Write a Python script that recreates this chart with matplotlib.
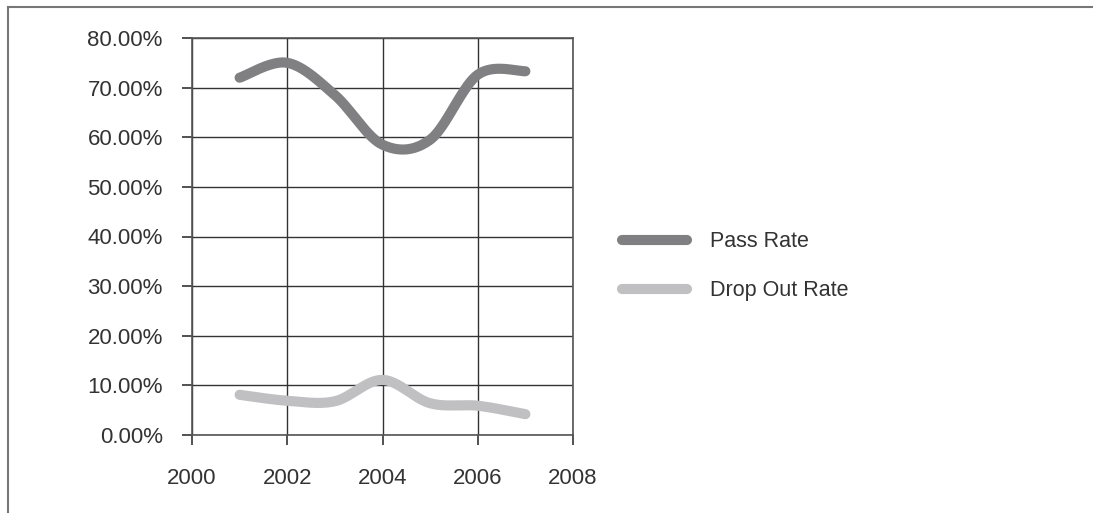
import numpy as np
import matplotlib.pyplot as plt
from matplotlib.lines import Line2D
from matplotlib.ticker import FuncFormatter

years = [2001, 2002, 2003, 2004, 2005, 2006, 2007]
pass_rate = [72.0, 75.0, 68.5, 58.5, 59.5, 72.6, 73.3]
drop_out_rate = [8.1, 6.9, 6.8, 11.1, 6.4, 5.9, 4.2]
series_names = ['Pass Rate', 'Drop Out Rate']
series_colors = ['#808083', '#c0c0c3']

x_ticks = [2000, 2002, 2004, 2006, 2008]
y_ticks = [0, 10, 20, 30, 40, 50, 60, 70, 80]


def smooth(xs, ys, steps=40):
    """
    Catmull-Rom curve through the points, the way spreadsheet charts smooth a line
    """
    xs = np.asarray(xs, dtype=float)
    ys = np.asarray(ys, dtype=float)
    px = np.concatenate([[xs[0]], xs, [xs[-1]]])
    py = np.concatenate([[ys[0]], ys, [ys[-1]]])
    out_x, out_y = [], []
    t = np.linspace(0, 1, steps)
    for i in range(1, len(px) - 2):
        for p, out in ((px, out_x), (py, out_y)):
            p0, p1, p2, p3 = p[i - 1], p[i], p[i + 1], p[i + 2]
            out.extend(0.5 * (2 * p1 + (-p0 + p2) * t
                              + (2 * p0 - 5 * p1 + 4 * p2 - p3) * t ** 2
                              + (-p0 + 3 * p1 - 3 * p2 + p3) * t ** 3))
    return np.array(out_x), np.array(out_y)


plt.rcParams['font.family'] = ['Liberation Sans', 'DejaVu Sans']

fig = plt.figure(figsize=(10.93, 5.13), dpi=100)
ax = fig.add_axes([192 / 1093, 1 - 435 / 513, 381 / 1093, 397 / 513])

for values, name, color in zip([pass_rate, drop_out_rate], series_names, series_colors):
    sx, sy = smooth(years, values)
    ax.plot(sx, sy, color=color, lw=7.3, solid_capstyle='round',
            solid_joinstyle='round', label=name, zorder=3)

ax.set_xlim(2000, 2008)
ax.set_ylim(0, 80)
ax.set_xticks(x_ticks)
ax.set_yticks(y_ticks)
ax.yaxis.set_major_formatter(FuncFormatter(lambda v, pos: '{:.2f}%'.format(v)))
ax.grid(True, color='#333333', lw=1)
ax.set_axisbelow(True)
for spine in ax.spines.values():
    spine.set_color('#555555')
    spine.set_linewidth(1.2)
ax.tick_params(axis='both', colors='#333333', labelcolor='#333333',
               labelsize=16, length=7, width=1.2)
ax.tick_params(axis='y', pad=14)
ax.tick_params(axis='x', pad=17)

fig.legend(loc='upper left', bbox_to_anchor=(603 / 1093, 1 - 212 / 513),
           frameon=False, fontsize=15.5, handlelength=3.0, handletextpad=1.05,
           labelspacing=1.3, labelcolor='#333333')

# outer frame, cut off at the right and bottom
fig.add_artist(Line2D([8 / 1093, 1], [1 - 7 / 513, 1 - 7 / 513],
                      transform=fig.transFigure, color='#777777', lw=1.5))
fig.add_artist(Line2D([8 / 1093, 8 / 1093], [0, 1 - 7 / 513],
                      transform=fig.transFigure, color='#777777', lw=1.5))

fig.savefig('out.png', dpi=100)
